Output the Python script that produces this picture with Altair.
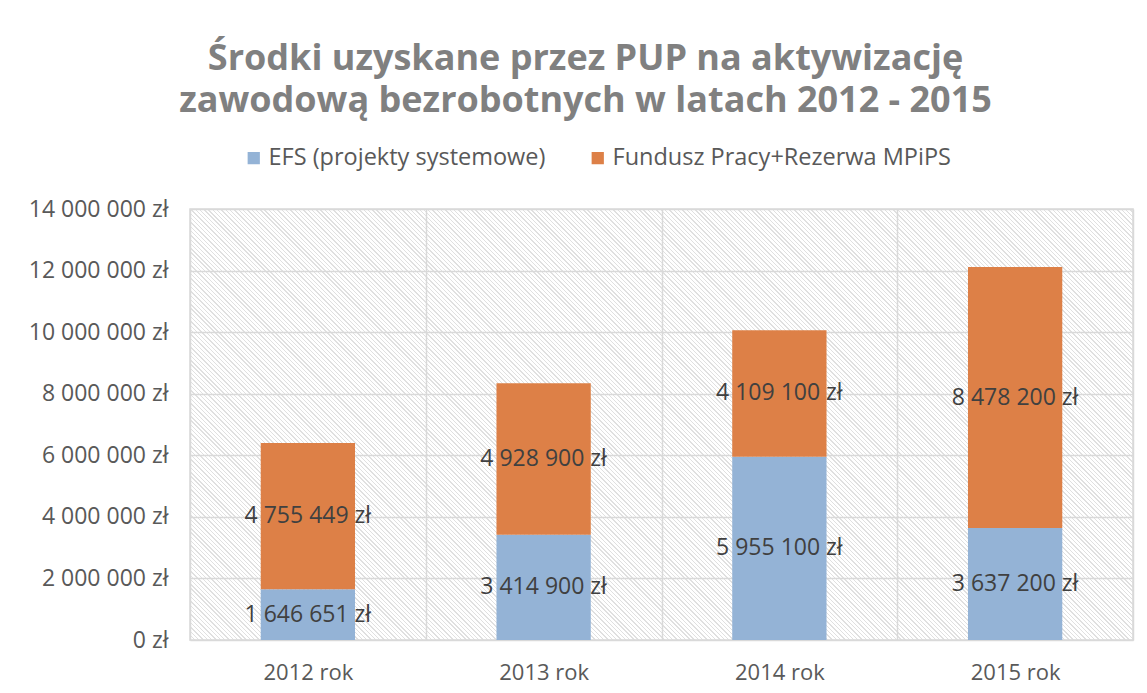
import json
import altair as alt
import pandas as pd

# ---- data ----
years = ["2012 rok", "2013 rok", "2014 rok", "2015 rok"]
efs = [1646651, 3414900, 5955100, 3637200]
fundusz = [4755449, 4928900, 4109100, 8478200]
series = ["EFS (projekty systemowe)", "Fundusz Pracy+Rezerwa MPiPS"]
colors = ["#94B3D6", "#DD8047"]
y_ticks = [0, 2000000, 4000000, 6000000, 8000000, 10000000, 12000000, 14000000]
title_lines = ["Środki uzyskane przez PUP na aktywizację",
               "zawodową bezrobotnych w latach 2012 - 2015"]

FONT = "Open Sans"
W, H = 943, 431


def fmt(v):
    return f"{v:,}".replace(",", " ") + " zł"


rows = []
for i, yr in enumerate(years):
    rows.append(dict(year=yr, series=series[0], value=efs[i], ord=0,
                     mid=efs[i] / 2, label=fmt(efs[i])))
    rows.append(dict(year=yr, series=series[1], value=fundusz[i], ord=1,
                     mid=efs[i] + fundusz[i] / 2, label=fmt(fundusz[i])))
df = pd.DataFrame(rows)

# ---- hatched plot background (diagonal stripes via a linear gradient) ----
k = (W + H) / (W * W + H * H)
n_per = int((W + H) / 4.3)
frac = 0.32
stripe = "#e0e0e0"
stops = []
for i in range(n_per):
    o0 = i / n_per
    o1 = (i + frac) / n_per
    o2 = (i + 1) / n_per
    stops += [
        {"offset": round(o0, 6), "color": stripe},
        {"offset": round(o1, 6), "color": stripe},
        {"offset": round(o1, 6), "color": "#ffffff"},
        {"offset": round(o2, 6), "color": "#ffffff"},
    ]
grad = {"gradient": "linear", "x1": 0, "y1": 1,
        "x2": round(k * W, 6), "y2": round(1 - k * H, 6), "stops": stops}

x_enc = alt.X(
    "year:N", sort=years,
    scale=alt.Scale(paddingInner=0, paddingOuter=0),
    axis=alt.Axis(title=None, tickBand="extent", grid=True, gridColor="#d9d9d9",
                  gridWidth=1.5, ticks=False, domain=False, labelAngle=0,
                  labelFont=FONT, labelFontSize=22, labelColor="#595959",
                  labelPadding=22),
)
y_enc = alt.Y(
    "value:Q", stack="zero",
    scale=alt.Scale(domain=[0, 14000000], nice=False),
    axis=alt.Axis(title=None, values=y_ticks, grid=True, gridColor="#d9d9d9",
                  gridWidth=1.5, ticks=False, domain=False,
                  labelExpr="replace(format(datum.value, ','), regexp(',', 'g'), ' ') + ' zł'",
                  labelFont=FONT, labelFontSize=23, labelColor="#595959",
                  labelPadding=22),
)

bars = alt.Chart(df).mark_bar(width=alt.RelativeBandSize(0.4)).encode(
    x=x_enc,
    y=y_enc,
    color=alt.Color(
        "series:N",
        scale=alt.Scale(domain=series, range=colors),
        legend=alt.Legend(
            title=None, orient="none", direction="horizontal",
            legendX=52, legendY=-63, symbolType="square", symbolSize=150,
            symbolStrokeWidth=0, labelFont=FONT, labelFontSize=23.5,
            labelColor="#595959", columnPadding=40, labelOffset=3, padding=0,
            labelLimit=500,
        ),
    ),
    order=alt.Order("ord:Q"),
)

labels = alt.Chart(df).mark_text(
    font=FONT, fontSize=23, color="#404040", align="center", baseline="middle"
).encode(
    x=alt.X("year:N", sort=years),
    y=alt.Y("mid:Q"),
    text="label:N",
)

chart = (
    alt.layer(bars, labels)
    .properties(
        width=W, height=H,
        autosize=alt.AutoSizeParams(type="none"),
        padding={"left": 182, "top": 201, "right": 6, "bottom": 50},
        title=alt.TitleParams(
            text=title_lines, anchor="middle", font=FONT, fontSize=36,
            fontWeight="bold", color="#808080", lineHeight=42, dx=-76,
            offset=26,
        ),
    )
    .configure_view(stroke="#d9d9d9", strokeWidth=1.5,
                    fill={"expr": json.dumps(grad)})
)

chart.save("out.html", embed_options={"renderer": "svg", "actions": False})
